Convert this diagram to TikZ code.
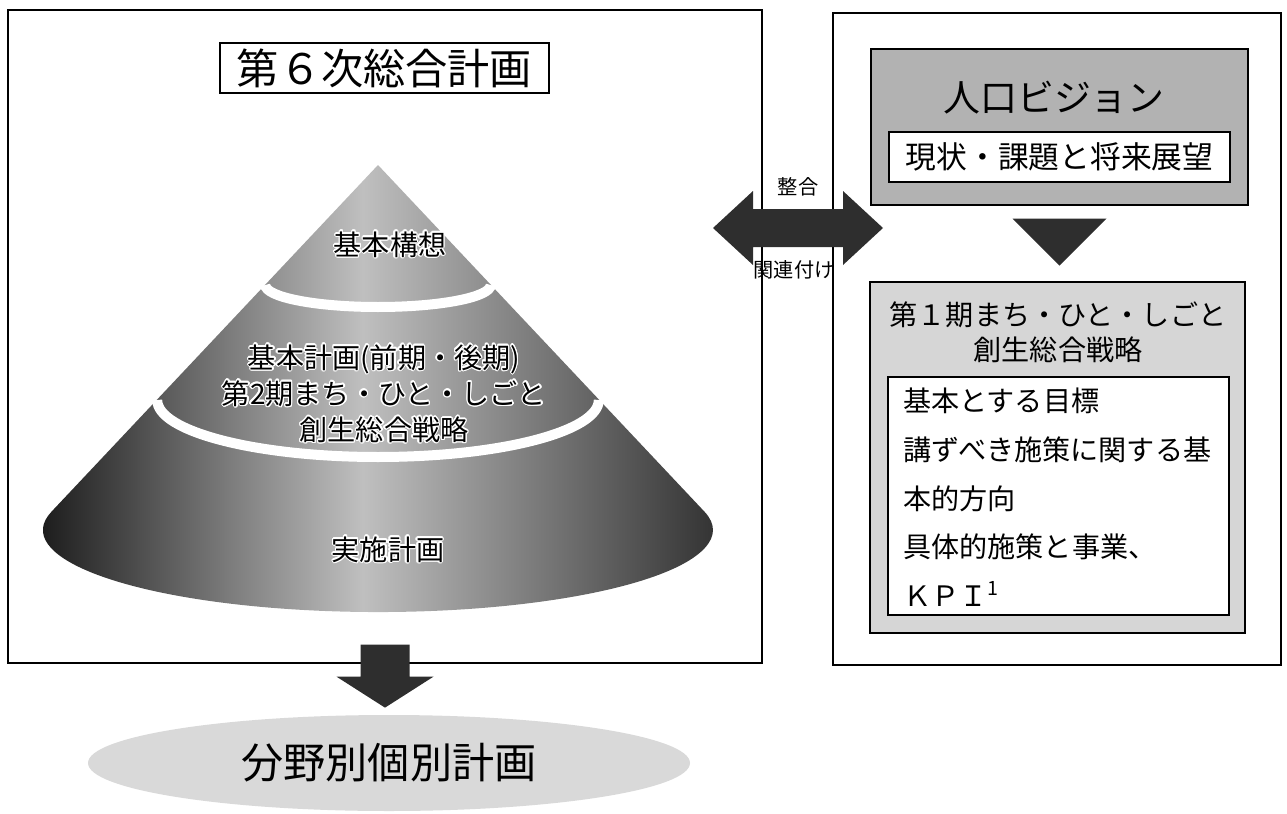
\documentclass[tikz,border=0pt]{standalone}
\usepackage{fontspec}
\setmainfont{Noto Sans CJK JP}
\usepackage{contour}
\contourlength{0.7pt}
\usetikzlibrary{shapes.geometric}

\begin{document}
\begin{tikzpicture}[
    frame/.style={draw, line width=0.9pt, inner sep=0pt},
    box/.style={draw, line width=0.7pt, inner sep=0pt},
    blk/.style={fill=black!82},
    ring/.style={draw=white, line width=2mm},
    conetext/.style={font=\fontsize{16}{20.5}\selectfont, align=center},
    listtext/.style={font=\fontsize{16}{27.7}\selectfont, align=left, anchor=west, inner sep=0pt}
  ]
  \useasboundingbox (0,0) rectangle (25.74,-16.28);

  % left: the general plan
  \node[frame, minimum width=15.08cm, minimum height=13.06cm] (plan) at (7.70,-6.73) {};
  \node[box, fill=white, minimum width=6.58cm, minimum height=1.0cm,
        font=\fontsize{24}{28}\selectfont] (title) at (7.69,-1.36) {第６次総合計画};

  % cone
  \coordinate (apex) at (7.56,-3.30);
  \shade[left color=black!95, right color=black!80, middle color=black!25]
    (apex) -- ++(-6.529,-6.932) arc[start angle=167.02, end angle=372.98, x radius=6.70, y radius=1.64] -- cycle;
  \foreach \y/\rx/\ry in {-5.70/2.254/0.44, -8.00/4.416/1.14}
    \draw[ring] (7.56,\y) ++(-\rx,0) arc[start angle=180, end angle=360, x radius=\rx, y radius=\ry];

  \node[conetext] (kousou) at (7.80,-4.90) {\contour{white}{基本構想}};
  \node[conetext] (keikaku) at (7.68,-7.88) {\contour{white}{基本計画(前期・後期)}\\
    \contour{white}{第2期まち・ひと・しごと}\\ \contour{white}{創生総合戦略}};
  \node[conetext] (jisshi) at (7.76,-11.00) {\contour{white}{実施計画}};

  % right: the vision
  \node[frame, minimum width=8.96cm, minimum height=13.04cm] (vision) at (21.14,-6.78) {};
  \node[box, fill=black!30, minimum width=7.54cm, minimum height=3.12cm] (jinko) at (21.19,-2.54) {};
  \node[font=\fontsize{21}{25}\selectfont] (jinkotitle) at (21.08,-1.96) {人口ビジョン};
  \node[box, fill=white, minimum width=6.82cm, minimum height=1.0cm,
        font=\fontsize{17.5}{21}\selectfont] (genjo) at (21.19,-3.14) {現状・課題と将来展望};

  \node[box, fill=black!16, minimum width=7.50cm, minimum height=7.02cm] (senryaku) at (21.15,-9.15) {};
  \node[font=\fontsize{16}{20}\selectfont, align=center] (senryakutitle) at (21.16,-6.65)
    {第１期まち・ひと・しごと\\創生総合戦略};
  \node[box, fill=white, minimum width=6.82cm, minimum height=4.76cm] (mokuhyo) at (21.17,-9.92) {};
  \node[listtext] (naiyo) at (18.06,-9.95)
    {基本とする目標\\講ずべき施策に関する基\\本的方向\\具体的施策と事業、\\ＫＰＩ\textsuperscript{1}};

  % vision -> strategy
  \fill[blk] ([yshift=-2.6mm]jinko.south) ++(-0.94,0) -- ++(1.88,0) -- ++(-0.94,-0.94) -- cycle;

  % plan <-> vision
  \coordinate (arr) at (15.96,-4.56);
  \fill[blk] (arr) ++(-1.70,0) -- ++(0.80,0.74) -- ++(0,-0.36) -- ++(1.80,0) -- ++(0,0.36)
    -- ++(0.80,-0.74) -- ++(-0.80,-0.74) -- ++(0,0.36) -- ++(-1.80,0) -- ++(0,-0.36) -- cycle;
  \node[font=\fontsize{11.5}{14}\selectfont] (seigo) at ([yshift=0.82cm]arr) {整合};
  \node[font=\fontsize{11.5}{14}\selectfont] (kanren) at ([xshift=-0.08cm,yshift=-0.84cm]arr) {関連付け};

  % plan -> individual plans
  \node[ellipse, fill=black!15, inner sep=0pt, minimum width=12.04cm, minimum height=1.92cm,
        font=\fontsize{24}{28}\selectfont] (kobetsu) at (7.78,-15.26) {分野別個別計画};
  \coordinate (dtop) at ([yshift=3.6mm]plan.south);
  \coordinate (dtip) at ([yshift=1.4mm]dtop |- kobetsu.north);
  \fill[blk] (dtip) -- ++(-0.97,0.62) -- ++(0.48,0) -- ++(0,0.64) -- ++(0.98,0) -- ++(0,-0.64)
    -- ++(0.48,0) -- cycle;
\end{tikzpicture}
\end{document}
